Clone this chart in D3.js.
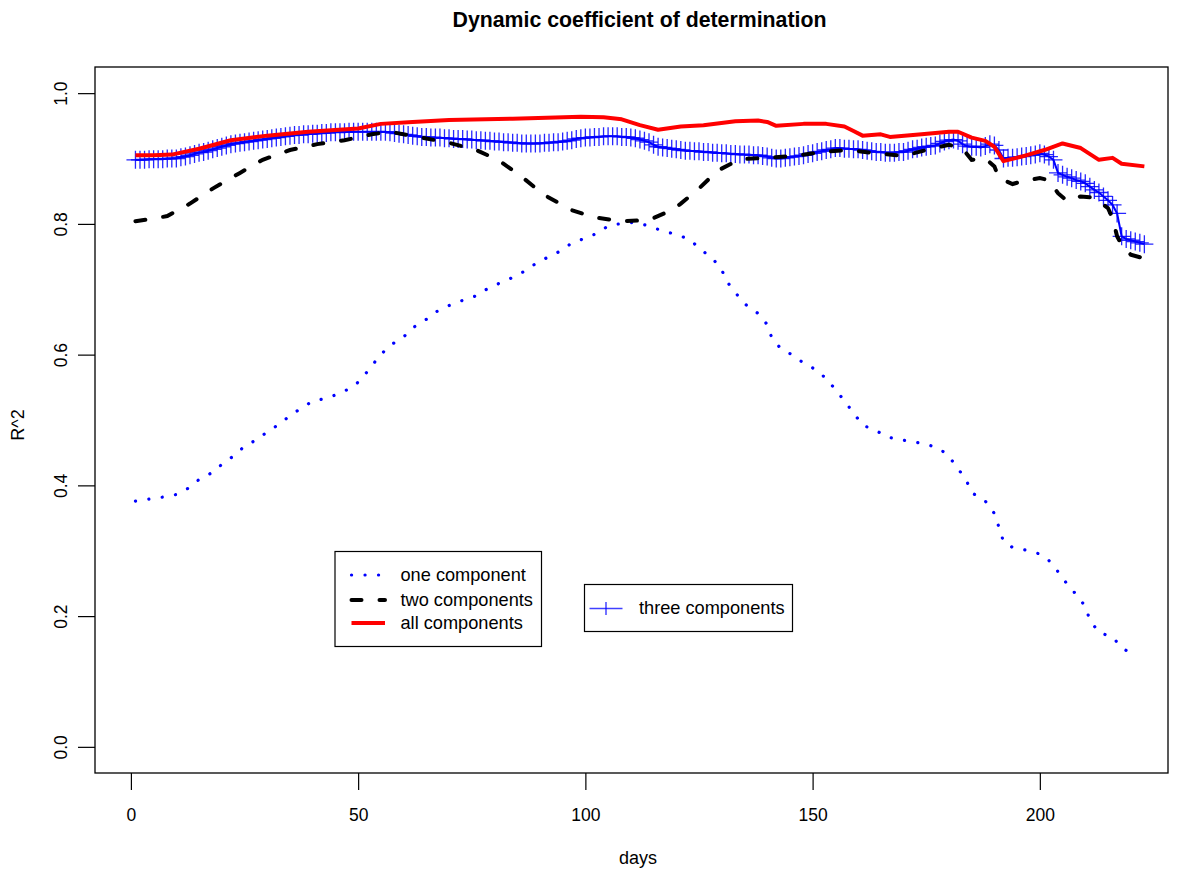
<!DOCTYPE html>
<html>
<head>
<meta charset="utf-8">
<script src="https://cdn.jsdelivr.net/npm/d3@7"></script>
<style>
  body { margin: 0; background: #fff; }
  text { font-family: "Liberation Sans", Arial, Helvetica, sans-serif; fill: #000; }
</style>
</head>
<body>
<div id="chart"></div>
<script>
// one component (dotted blue)
const oneDays = [1,4,7,10,13,15,18,20,23,25,28,30,33,35,38,40,43,46,49,51,53,55,57,60,62,65,67,70,73,76,78,81,84,87,89,92,95,97,100,103,105,109,111,114,117,120,123,125,128,130,131,133,135,138,140,141,143,146,148,151,153,155,157,159,161,164,166,169,172,175,178,180,182,184,185,188,190,191,192,194,197,200,202,204,206,208,210,211,213,216,218,220];
const oneVals = [0.376,0.379,0.382,0.386,0.397,0.409,0.420,0.432,0.447,0.460,0.471,0.482,0.495,0.507,0.520,0.529,0.533,0.541,0.551,0.565,0.583,0.600,0.614,0.627,0.641,0.654,0.665,0.675,0.683,0.690,0.699,0.709,0.718,0.729,0.739,0.750,0.760,0.771,0.778,0.787,0.797,0.802,0.802,0.797,0.789,0.784,0.776,0.763,0.747,0.730,0.713,0.695,0.678,0.663,0.646,0.626,0.609,0.598,0.587,0.576,0.563,0.547,0.529,0.511,0.492,0.484,0.475,0.470,0.467,0.463,0.456,0.444,0.426,0.405,0.389,0.376,0.357,0.336,0.314,0.305,0.301,0.295,0.285,0.268,0.249,0.233,0.215,0.194,0.175,0.168,0.152,0.143];

// two components (dashed black)
const twoDays = [1,5,8,13,18,24,29,35,41,47,53,57,64,70,76,81,86,91,97,102,108,114,119,121,125,129,134,140,146,152,158,164,170,175,180,183,185,188,190,191,194,196,200,202,204,206,209,212,215,216,217,218,220,223];
const twoVals = [0.804,0.808,0.812,0.831,0.854,0.878,0.898,0.913,0.922,0.928,0.937,0.941,0.932,0.924,0.913,0.897,0.872,0.844,0.821,0.810,0.804,0.806,0.821,0.831,0.854,0.881,0.899,0.901,0.904,0.910,0.913,0.908,0.904,0.913,0.921,0.915,0.898,0.900,0.888,0.870,0.861,0.865,0.870,0.867,0.847,0.835,0.842,0.840,0.824,0.809,0.781,0.768,0.753,0.747];

// all components (solid red)
const allDays = [1,5,9,15,22,30,39,50,55,62,70,84,99,104,108,112,116,121,126,133,138,140,142,148,153,157,159,161,165,167,174,180,182,185,188,190,192,196,201,205,209,213,216,218,223];
const allVals = [0.905,0.905,0.906,0.915,0.928,0.935,0.941,0.946,0.953,0.956,0.959,0.961,0.964,0.963,0.960,0.951,0.944,0.949,0.951,0.957,0.958,0.956,0.950,0.953,0.953,0.949,0.942,0.935,0.937,0.933,0.937,0.941,0.941,0.932,0.927,0.918,0.896,0.903,0.913,0.923,0.916,0.898,0.901,0.892,0.888];

// three components (blue, one point per day 1..223)
const threeDays = d3.range(1, 224);
const threeVals = [
  0.898,0.898,0.898,0.899,0.899,0.899,0.899,0.900,0.900,0.900,
  0.902,0.903,0.905,0.907,0.909,0.910,0.912,0.914,0.916,0.918,
  0.920,0.922,0.923,0.924,0.925,0.926,0.927,0.928,0.929,0.930,
  0.931,0.932,0.933,0.934,0.935,0.936,0.936,0.937,0.937,0.938,
  0.938,0.939,0.939,0.940,0.940,0.940,0.940,0.941,0.941,0.941,
  0.941,0.941,0.941,0.941,0.941,0.941,0.940,0.939,0.938,0.937,
  0.936,0.935,0.934,0.933,0.933,0.932,0.932,0.932,0.931,0.931,
  0.930,0.930,0.930,0.929,0.929,0.928,0.928,0.927,0.927,0.926,
  0.926,0.925,0.925,0.924,0.924,0.923,0.923,0.923,0.923,0.923,
  0.924,0.924,0.925,0.925,0.926,0.927,0.928,0.930,0.931,0.932,
  0.932,0.933,0.933,0.934,0.934,0.934,0.934,0.933,0.933,0.932,
  0.931,0.929,0.927,0.925,0.921,0.918,0.917,0.916,0.915,0.914,
  0.913,0.912,0.912,0.911,0.911,0.910,0.910,0.909,0.909,0.908,
  0.908,0.907,0.907,0.906,0.906,0.906,0.905,0.905,0.904,0.903,
  0.901,0.900,0.900,0.901,0.902,0.903,0.904,0.905,0.907,0.908,
  0.910,0.911,0.913,0.914,0.916,0.916,0.915,0.915,0.914,0.914,
  0.913,0.912,0.911,0.910,0.910,0.909,0.909,0.909,0.910,0.910,
  0.912,0.914,0.915,0.917,0.918,0.919,0.920,0.923,0.926,0.928,
  0.929,0.927,0.922,0.919,0.918,0.918,0.917,0.919,0.922,0.920,
  0.913,0.900,0.901,0.901,0.902,0.903,0.904,0.905,0.906,0.908,
  0.906,0.903,0.898,0.878,0.875,0.872,0.870,0.867,0.865,0.862,
  0.857,0.852,0.848,0.842,0.836,0.829,0.816,0.781,0.777,0.775,
  0.773,0.771,0.769
];

const xTicks = [0, 50, 100, 150, 200];
const yTicks = [0, 0.2, 0.4, 0.6, 0.8, 1.0];
const legendLabels = ["one component", "two components", "all components"];
const legendLabel3 = "three components";

const width = 1179, height = 870;
const margin = { left: 95, right: 11, top: 67, bottom: 97 };

const svg = d3.select("#chart").append("svg")
  .attr("width", width)
  .attr("height", height);

const x = d3.scaleLinear().domain([-7.9, 228.2]).range([margin.left, width - margin.right]);
const y = d3.scaleLinear().domain([-0.04, 1.04]).range([height - margin.bottom, margin.top]);

const zip = (ds, vs) => ds.map((d, i) => [d, vs[i]]);
const line = d3.line().x(d => x(d[0])).y(d => y(d[1]));

// three components: line + plus markers
const three = zip(threeDays, threeVals);
svg.append("path")
  .attr("d", line(three))
  .attr("fill", "none")
  .attr("stroke", "#0000ff")
  .attr("stroke-width", 2);

const plus = svg.append("g")
  .attr("stroke", "#0000ff")
  .attr("stroke-width", 1.3)
  .attr("stroke-opacity", 0.85);
plus.selectAll("path")
  .data(three)
  .enter()
  .append("path")
    .attr("d", d => `M${x(d[0]) - 9},${y(d[1])}h18M${x(d[0])},${y(d[1]) - 9}v18`);

// one component dotted
svg.append("path")
  .attr("d", line(zip(oneDays, oneVals)))
  .attr("fill", "none")
  .attr("stroke", "#0000ff")
  .attr("stroke-width", 3.2)
  .attr("stroke-linecap", "round")
  .attr("stroke-dasharray", "0.1 13.4");

// two components dashed
svg.append("path")
  .attr("d", line(zip(twoDays, twoVals)))
  .attr("fill", "none")
  .attr("stroke", "#000")
  .attr("stroke-width", 4)
  .attr("stroke-linecap", "round")
  .attr("stroke-dasharray", "10 18");

// all components solid red
svg.append("path")
  .attr("d", line(zip(allDays, allVals)))
  .attr("fill", "none")
  .attr("stroke", "#ff0000")
  .attr("stroke-width", 4)
  .attr("stroke-linejoin", "round");

// box
svg.append("rect")
  .attr("x", margin.left)
  .attr("y", margin.top)
  .attr("width", width - margin.left - margin.right)
  .attr("height", height - margin.top - margin.bottom)
  .attr("fill", "none")
  .attr("stroke", "#000")
  .attr("stroke-width", 1.3);

// x axis
const xAxis = svg.append("g")
  .attr("transform", `translate(0, ${height - margin.bottom})`)
  .call(d3.axisBottom(x).tickValues(xTicks).tickSize(17).tickPadding(19).tickSizeOuter(0));
xAxis.select(".domain").remove();
xAxis.selectAll("line").attr("stroke", "#000").attr("stroke-width", 1.2);
xAxis.selectAll("text").attr("font-size", 17.5).attr("font-family", "Liberation Sans, Arial, sans-serif");

// y axis with rotated labels
const yAxis = svg.append("g")
  .attr("transform", `translate(${margin.left}, 0)`)
  .call(d3.axisLeft(y).tickValues(yTicks).tickSize(17).tickFormat(d3.format(".1f")).tickSizeOuter(0));
yAxis.select(".domain").remove();
yAxis.selectAll("line").attr("stroke", "#000").attr("stroke-width", 1.2);
yAxis.selectAll(".tick text")
  .attr("x", null).attr("dy", null)
  .attr("text-anchor", "middle")
  .attr("font-size", 17.5)
  .attr("font-family", "Liberation Sans, Arial, sans-serif")
  .attr("transform", "translate(-28, 0) rotate(-90)");

// titles
svg.append("text")
  .text("Dynamic coefficient of determination")
  .attr("x", 639.5).attr("y", 27)
  .attr("text-anchor", "middle")
  .attr("font-size", 21.3)
  .attr("font-weight", "bold");

svg.append("text")
  .text("days")
  .attr("x", 638).attr("y", 864)
  .attr("text-anchor", "middle")
  .attr("font-size", 18);

svg.append("text")
  .text("R^2")
  .attr("text-anchor", "middle")
  .attr("font-size", 18)
  .attr("transform", "translate(24, 425) rotate(-90)");

// legend 1
const leg = svg.append("g");
leg.append("rect")
  .attr("x", 335).attr("y", 551.5).attr("width", 206.5).attr("height", 95)
  .attr("fill", "#fff").attr("stroke", "#000").attr("stroke-width", 1.2);
const legStyles = [
  { stroke: "#0000ff", w: 3.2, dash: "0.1 13.4" },
  { stroke: "#000", w: 4, dash: "10 18" },
  { stroke: "#ff0000", w: 4, dash: null }
];
const legRows = [575, 600, 623];
legendLabels.forEach((lab, i) => {
  leg.append("line")
    .attr("x1", 351.5).attr("x2", 385).attr("y1", legRows[i]).attr("y2", legRows[i])
    .attr("stroke", legStyles[i].stroke).attr("stroke-width", legStyles[i].w)
    .attr("stroke-linecap", legStyles[i].dash ? "round" : "butt")
    .attr("stroke-dasharray", legStyles[i].dash);
  leg.append("text")
    .text(lab)
    .attr("x", 400.5).attr("y", legRows[i])
    .attr("dy", "0.35em")
    .attr("font-size", 18.2);
});

// legend 2
const leg2 = svg.append("g");
leg2.append("rect")
  .attr("x", 584.5).attr("y", 584.5).attr("width", 208).attr("height", 47)
  .attr("fill", "#fff").attr("stroke", "#000").attr("stroke-width", 1.2);
leg2.append("line")
  .attr("x1", 589.5).attr("x2", 622.5).attr("y1", 608.5).attr("y2", 608.5)
  .attr("stroke", "#0000ff").attr("stroke-width", 1.3).attr("stroke-opacity", 0.75);
leg2.append("line")
  .attr("x1", 606).attr("x2", 606).attr("y1", 602).attr("y2", 615)
  .attr("stroke", "#0000ff").attr("stroke-width", 1.3).attr("stroke-opacity", 0.85);
leg2.append("text")
  .text(legendLabel3)
  .attr("x", 639).attr("y", 608)
  .attr("dy", "0.35em")
  .attr("font-size", 18.2);
</script>
</body>
</html>
